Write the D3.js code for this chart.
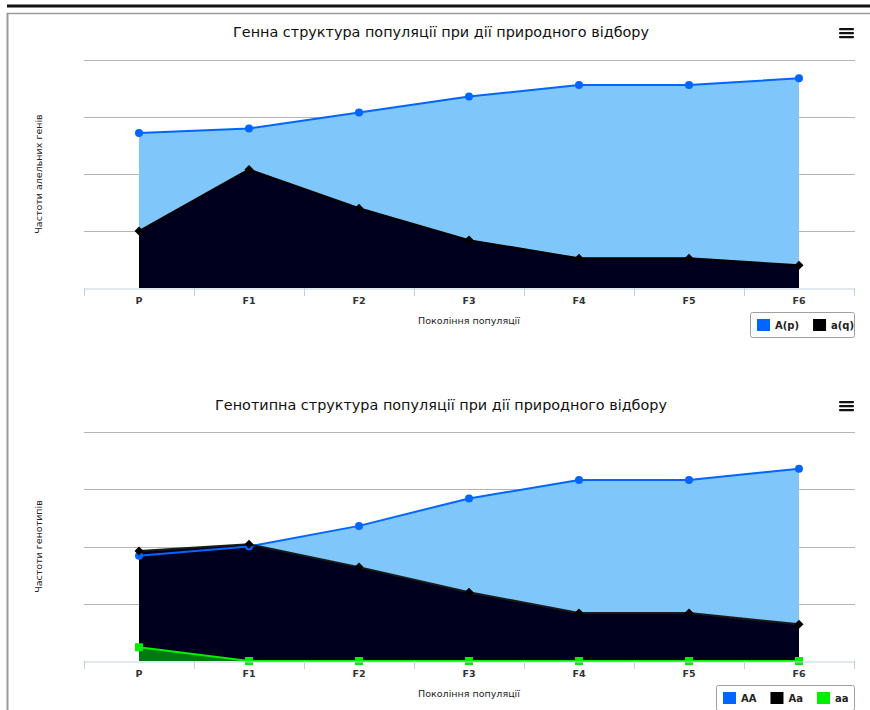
<!DOCTYPE html>
<html>
<head>
<meta charset="utf-8">
<script src="https://cdn.jsdelivr.net/npm/d3@7"></script>
<style>
  html, body { margin: 0; padding: 0; background: #fff; }
  svg { display: block; font-family: "DejaVu Sans", Verdana, sans-serif; }
</style>
</head>
<body>
<svg id="page" width="870" height="710"></svg>
<script>
// Generations along the x axis
const generations = ["P", "F1", "F2", "F3", "F4", "F5", "F6"];

// Allele frequencies
const alleleA = [0.68, 0.70, 0.77, 0.84, 0.89, 0.89, 0.92];
const allelea = [0.25, 0.52, 0.35, 0.21, 0.13, 0.13, 0.10];

// Genotype frequencies
const genoAA = [0.46, 0.50, 0.59, 0.71, 0.79, 0.79, 0.84];
const genoAa = [0.48, 0.51, 0.41, 0.30, 0.21, 0.21, 0.16];
const genoaa = [0.06, 0.00, 0.00, 0.00, 0.00, 0.00, 0.00];

// Grid values on the (hidden) y axis
const yTicks = [0, 0.25, 0.5, 0.75, 1];

const svg = d3.select("#page");

// Page frame: heavy rule on top and a grey bordered panel
svg.append("rect").attr("x", 7).attr("y", 4.5).attr("width", 863).attr("height", 3).attr("fill", "#111");
svg.append("line").attr("x1", 7).attr("x2", 870).attr("y1", 13.5).attr("y2", 13.5)
  .attr("stroke", "#9a9a9a").attr("stroke-width", 1.5);
svg.append("line").attr("x1", 7.5).attr("x2", 7.5).attr("y1", 13).attr("y2", 710)
  .attr("stroke", "#9a9a9a").attr("stroke-width", 2);

function drawChart(cfg) {
  const g = svg.append("g");
  const left = 84, right = 854;
  const x = d3.scaleBand().domain(generations).range([left, right]).padding(0);
  const y = d3.scaleLinear().domain([0, 1]).range([cfg.bottom, cfg.top]);
  const cx = d => x(d) + x.bandwidth() / 2;

  // Title
  g.append("text").attr("x", 441).attr("y", cfg.titleY).attr("text-anchor", "middle")
    .attr("font-size", 14.4).attr("fill", "#111").text(cfg.title);

  // Menu button
  [0, 1, 2].forEach(i => {
    g.append("rect").attr("x", 839).attr("y", cfg.titleY - 9 + i * 4).attr("width", 15).attr("height", 2.3)
      .attr("rx", 1).attr("fill", "#111");
  });

  // Horizontal grid
  g.append("g").selectAll("line").data(yTicks.slice(1)).join("line")
    .attr("x1", left).attr("x2", right + 1)
    .attr("y1", d => Math.round(y(d)) + 0.5).attr("y2", d => Math.round(y(d)) + 0.5)
    .attr("stroke", "#b5b5b5").attr("stroke-width", 1);

  // Series: areas, then lines and markers on top
  cfg.series.forEach(s => {
    const pts = generations.map((gname, i) => [cx(gname), y(s.values[i])]);
    const area = d3.area().x(d => d[0]).y0(y(0)).y1(d => d[1]);
    g.append("path").attr("d", area(pts)).attr("fill", s.fill);
  });
  cfg.series.forEach(s => {
    const pts = generations.map((gname, i) => [cx(gname), y(s.values[i])]);
    g.append("path").attr("d", d3.line()(pts)).attr("fill", "none")
      .attr("stroke", s.stroke).attr("stroke-width", 2).attr("stroke-linejoin", "round");
    pts.forEach(p => {
      if (s.marker === "circle") {
        g.append("circle").attr("cx", p[0]).attr("cy", p[1]).attr("r", 4).attr("fill", s.color);
      } else if (s.marker === "diamond") {
        g.append("path").attr("d", `M${p[0]},${p[1]-4.5}L${p[0]+4.5},${p[1]}L${p[0]},${p[1]+4.5}L${p[0]-4.5},${p[1]}Z`)
          .attr("fill", s.color);
      } else {
        g.append("rect").attr("x", p[0] - 4).attr("y", p[1] - 4).attr("width", 8).attr("height", 8).attr("fill", s.color);
      }
    });
  });

  // X axis
  const xAxis = d3.axisBottom(x).tickSize(0).tickPadding(9);
  const ax = g.append("g").attr("transform", `translate(0,${Math.round(y(0)) + 0.5})`).call(xAxis);
  ax.select(".domain").attr("stroke", "#c0d0e0");
  ax.selectAll(".tick text").attr("font-size", 9.5).attr("font-weight", "bold").attr("fill", "#333")
    .attr("font-family", "DejaVu Sans, sans-serif");
  // category boundary ticks
  g.append("g").selectAll("line").data(d3.range(generations.length + 1)).join("line")
    .attr("x1", i => left + i * x.bandwidth() + 0.5).attr("x2", i => left + i * x.bandwidth() + 0.5)
    .attr("y1", Math.round(y(0))).attr("y2", Math.round(y(0)) + 8)
    .attr("stroke", "#c0d0e0");

  // Axis titles
  g.append("text").attr("x", 469).attr("y", cfg.bottom + 36).attr("text-anchor", "middle")
    .attr("font-size", 9.5).attr("fill", "#222").text("Покоління популяції");
  g.append("text").attr("transform", `translate(42,${(cfg.top + cfg.bottom) / 2}) rotate(-90)`)
    .attr("text-anchor", "middle").attr("font-size", 9.5).attr("fill", "#222").text(cfg.yTitle);

  // Legend
  const lg = g.append("g").attr("transform", `translate(${cfg.legendX},${cfg.bottom + 24})`);
  lg.append("rect").attr("x", 0.5).attr("y", 0.5).attr("width", 854 - cfg.legendX).attr("height", 25)
    .attr("rx", 2).attr("fill", "#fff").attr("stroke", "#a0a0a0");
  let off = 7;
  cfg.series.forEach(s => {
    lg.append("rect").attr("x", off).attr("y", 7).attr("width", 13).attr("height", 12).attr("fill", s.color);
    const t = lg.append("text").attr("x", off + 18).attr("y", 17).attr("font-size", 10)
      .attr("font-weight", "bold").attr("fill", "#222").text(s.name);
    off += 18 + t.node().getComputedTextLength() + 14;
  });
}

drawChart({
  title: "Генна структура популяції при дії природного відбору",
  yTitle: "Частоти алельних генів",
  titleY: 37, top: 60, bottom: 288, legendX: 750,
  series: [
    { name: "A(p)", values: alleleA, color: "#0066ff", stroke: "#0066ff", fill: "#7fc6fb", marker: "circle" },
    { name: "a(q)", values: allelea, color: "#000000", stroke: "#000000", fill: "#00001e", marker: "diamond" }
  ]
});

drawChart({
  title: "Генотипна структура популяції при дії природного відбору",
  yTitle: "Частоти генотипів",
  titleY: 410, top: 432, bottom: 661, legendX: 716,
  series: [
    { name: "AA", values: genoAA, color: "#0066ff", stroke: "#0066ff", fill: "#7fc6fb", marker: "circle" },
    { name: "Aa", values: genoAa, color: "#000000", stroke: "#1a1a1a", fill: "#00001e", marker: "diamond" },
    { name: "aa", values: genoaa, color: "#00ee00", stroke: "#00ee00", fill: "#007a10", marker: "square" }
  ]
});
</script>
</body>
</html>
